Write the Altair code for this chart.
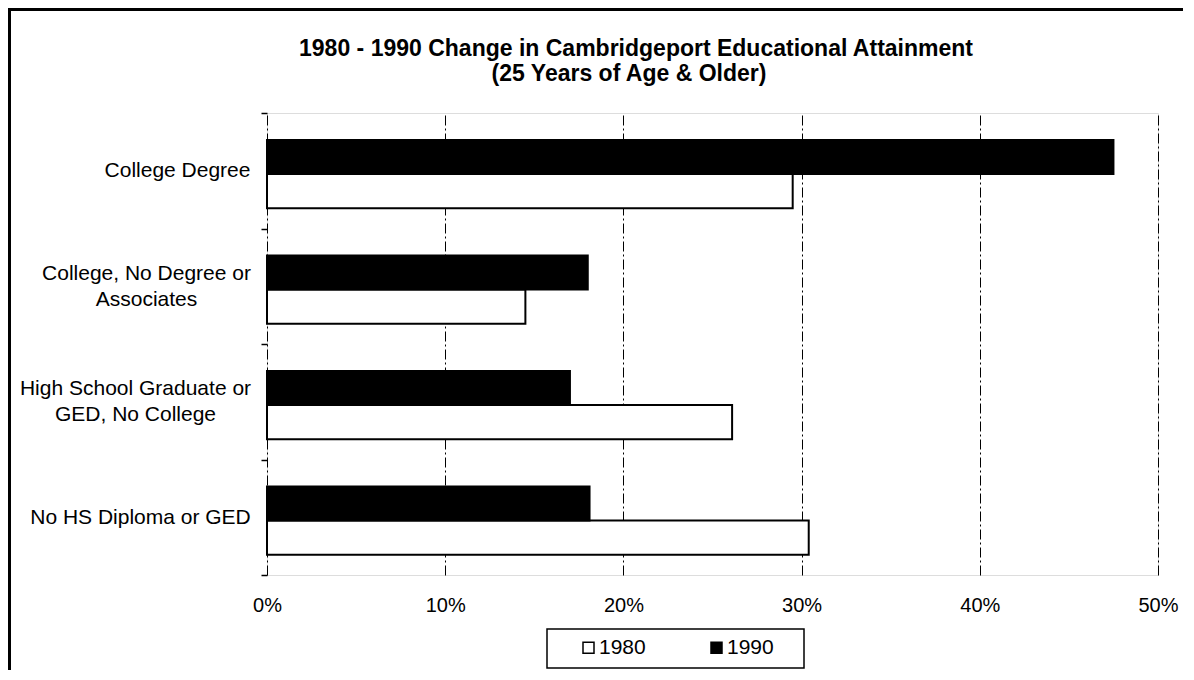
import altair as alt
import pandas as pd

title_lines = ["1980 - 1990 Change in Cambridgeport Educational Attainment",
               "(25 Years of Age & Older)"]
categories = ["College Degree",
              "College, No Degree or\nAssociates",
              "High School Graduate or\nGED, No College",
              "No HS Diploma or GED"]
years = ["1980", "1990"]
v1980 = [0.295, 0.145, 0.261, 0.304]
v1990 = [0.475, 0.180, 0.170, 0.181]
x_ticks = [0, 0.1, 0.2, 0.3, 0.4, 0.5]

rows = []
for c, a, b in zip(categories, v1980, v1990):
    rows.append({"cat": c, "year": "1980", "val": a})
    rows.append({"cat": c, "year": "1990", "val": b})
df = pd.DataFrame(rows)

FONT = "Liberation Sans"
W, H = 891, 462
PAD = {"left": 259, "top": 105, "right": 25, "bottom": 95}


def esc(c):
    return c.replace("\n", "\\n")


# label blocks are centre-aligned, right edge near the axis
pads = [84, 115, 126, 121]
pad_cond = {
    "condition": [
        {"test": "datum.value == '" + esc(c) + "'", "value": p}
        for c, p in zip(categories, pads)
    ],
    "value": 100,
}
off_cond = {
    "condition": [
        {"test": "indexof(datum.value + '', '\\n') >= 0", "value": -13}
    ],
    "value": 0,
}

bars = alt.Chart(df).mark_bar(stroke="black", strokeWidth=2).encode(
    x=alt.X("val:Q",
            scale=alt.Scale(domain=[0, 0.5], nice=False),
            axis=alt.Axis(values=x_ticks, format=".0%", title=None, grid=True,
                          gridColor="black", gridDash=[10, 3, 2, 3], gridWidth=1,
                          ticks=False, domain=False, labelFont=FONT,
                          labelFontSize=20, labelColor="black", labelPadding=20,
                          labelFlush=False)),
    y=alt.Y("cat:N", sort=categories,
            scale=alt.Scale(paddingInner=0, paddingOuter=0),
            axis=alt.Axis(title=None, domain=False, ticks=True, tickSize=6,
                          tickColor="black", tickWidth=1.5, tickBand="extent",
                          labelAlign="center", labelPadding=pad_cond,
                          labelOffset=off_cond,
                          labelFont=FONT, labelFontSize=21, labelColor="black",
                          labelLineHeight=26, labelLimit=400,
                          labelExpr="datum.value ? split(datum.value, '\\n') : ''")),
    yOffset=alt.YOffset("year:N", sort=["1990", "1980"],
                        scale=alt.Scale(paddingInner=0, paddingOuter=0.69,
                                        align=0.57)),
    fill=alt.Fill("year:N",
                  scale=alt.Scale(domain=years, range=["white", "black"]),
                  legend=alt.Legend(orient="none", legendX=311, legendY=524,
                                    direction="horizontal", title=None,
                                    symbolType="square", symbolSize=121,
                                    symbolStrokeColor="black",
                                    symbolStrokeWidth=1.5, labelFont=FONT,
                                    labelFontSize=21, labelColor="black",
                                    labelOffset=0, columnPadding=60)),
)

one = alt.Data(values=[{}])

legend_box = alt.Chart(one).mark_rect(fillOpacity=0, stroke="black",
                                      strokeWidth=1.5).encode(
    x=alt.value(280), x2=alt.value(537), y=alt.value(516), y2=alt.value(555))

frame_left = alt.Chart(one).mark_rule(color="black", strokeWidth=3).encode(
    x=alt.value(-257.5), y=alt.value(-105), y2=alt.value(H + PAD["bottom"]))
frame_top = alt.Chart(one).mark_rule(color="black", strokeWidth=3).encode(
    y=alt.value(-103.5), x=alt.value(-259), x2=alt.value(W + PAD["right"]))

t1 = alt.Chart(one).mark_text(text=title_lines[0], font=FONT, fontSize=23,
                              fontWeight="bold", baseline="middle",
                              align="center", color="black").encode(
    x=alt.value(369), y=alt.value(-64))
t2 = alt.Chart(one).mark_text(text=title_lines[1], font=FONT, fontSize=23,
                              fontWeight="bold", baseline="middle",
                              align="center", color="black").encode(
    x=alt.value(362), y=alt.value(-39))

chart = alt.layer(bars, legend_box, frame_left, frame_top, t1, t2).properties(
    width=W, height=H,
    autosize=alt.AutoSizeParams(type="none"),
    padding=PAD,
).configure_view(stroke="black", strokeWidth=2).configure(background="white")

chart.save("out.html", embed_options={"renderer": "svg", "actions": False})
